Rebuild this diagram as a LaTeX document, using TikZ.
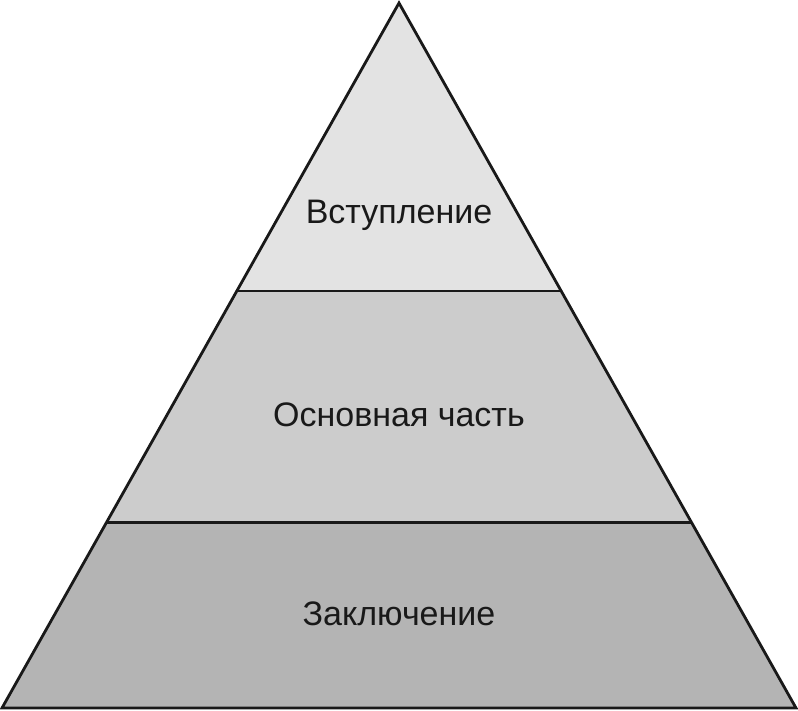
\documentclass[tikz,border=0pt]{standalone}
\usepackage{fontspec}
\setmainfont{Liberation Sans}
\usetikzlibrary{calc}
\begin{document}
\begin{tikzpicture}[x=1pt,y=-1pt,
  edge/.style={line width=2.8pt,line join=miter,black!90},
  lbl/.style={font=\fontsize{34}{40}\selectfont,text=black!90}]
\useasboundingbox (0,0) rectangle (798,711);
\coordinate (A) at (399,3);
\coordinate (L) at (2,708);
\coordinate (R) at (796,708);
\coordinate (L1) at ($(A)!0.4085!(L)$);
\coordinate (R1) at ($(A)!0.4085!(R)$);
\coordinate (L2) at ($(A)!0.7365!(L)$);
\coordinate (R2) at ($(A)!0.7365!(R)$);
\fill[fill={rgb,255:red,227;green,227;blue,227}] (A) -- (L1) -- (R1) -- cycle;
\fill[fill={rgb,255:red,204;green,204;blue,204}] (L1) -- (L2) -- (R2) -- (R1) -- cycle;
\fill[fill={rgb,255:red,180;green,180;blue,180}] (L2) -- (L) -- (R) -- (R2) -- cycle;
\draw[edge] (L1) -- (R1);
\draw[edge] (L2) -- (R2);
\draw[edge] (A) -- (L) -- (R) -- cycle;
\node[lbl] (t1) at (399,215) {Вступление};
\node[lbl] (t2) at (399,415) {Основная часть};
\node[lbl] (t3) at (399,614) {Заключение};
\end{tikzpicture}
\end{document}
